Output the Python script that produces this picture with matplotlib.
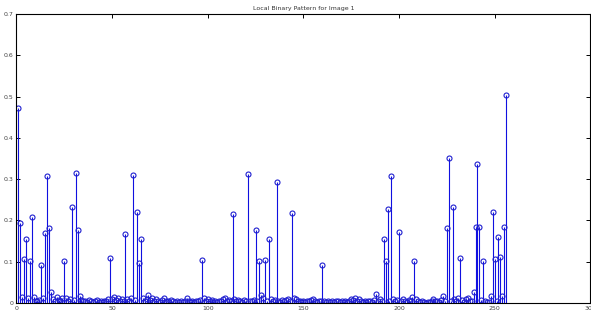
import numpy as np
import matplotlib.pyplot as plt

# LBP histogram, 256 bins (plotted at 1..256 like MATLAB stem)
lbp_hist = [
    0.473, 0.194, 0.015, 0.106, 0.156, 0.012, 0.101, 0.208, 0.015, 0.006, 0.004, 0.008, 0.092, 0.012, 0.169, 0.307,
    0.181, 0.027, 0.010, 0.006, 0.015, 0.008, 0.005, 0.012, 0.102, 0.012, 0.006, 0.010, 0.233, 0.008, 0.315, 0.178,
    0.018, 0.008, 0.004, 0.006, 0.003, 0.008, 0.005, 0.002, 0.004, 0.007, 0.003, 0.005, 0.002, 0.006, 0.004, 0.009,
    0.110, 0.010, 0.014, 0.008, 0.011, 0.006, 0.009, 0.004, 0.167, 0.010, 0.006, 0.012, 0.309, 0.008, 0.221, 0.096,
    0.154, 0.012, 0.006, 0.010, 0.020, 0.008, 0.012, 0.005, 0.010, 0.004, 0.003, 0.007, 0.012, 0.004, 0.006, 0.002,
    0.008, 0.004, 0.003, 0.005, 0.002, 0.004, 0.003, 0.006, 0.011, 0.004, 0.002, 0.005, 0.003, 0.006, 0.004, 0.008,
    0.105, 0.012, 0.006, 0.010, 0.004, 0.008, 0.003, 0.005, 0.002, 0.006, 0.004, 0.010, 0.012, 0.005, 0.008, 0.006,
    0.215, 0.010, 0.006, 0.008, 0.004, 0.003, 0.007, 0.005, 0.312, 0.006, 0.004, 0.008, 0.178, 0.005, 0.103, 0.020,
    0.012, 0.105, 0.006, 0.155, 0.010, 0.004, 0.008, 0.294, 0.006, 0.003, 0.007, 0.004, 0.008, 0.010, 0.006, 0.219,
    0.012, 0.009, 0.004, 0.006, 0.003, 0.005, 0.002, 0.006, 0.004, 0.008, 0.010, 0.005, 0.003, 0.006, 0.004, 0.092,
    0.006, 0.003, 0.005, 0.002, 0.004, 0.003, 0.006, 0.004, 0.002, 0.005, 0.003, 0.004, 0.002, 0.006, 0.010, 0.008,
    0.012, 0.006, 0.010, 0.004, 0.003, 0.005, 0.002, 0.004, 0.006, 0.003, 0.008, 0.023, 0.005, 0.010, 0.006, 0.155,
    0.102, 0.228, 0.004, 0.307, 0.010, 0.006, 0.008, 0.171, 0.004, 0.010, 0.006, 0.003, 0.008, 0.005, 0.014, 0.102,
    0.010, 0.006, 0.003, 0.004, 0.002, 0.001, 0.003, 0.002, 0.005, 0.010, 0.004, 0.006, 0.003, 0.007, 0.017, 0.005,
    0.181, 0.351, 0.006, 0.232, 0.010, 0.004, 0.012, 0.108, 0.008, 0.003, 0.010, 0.012, 0.006, 0.004, 0.027, 0.183,
    0.338, 0.183, 0.008, 0.102, 0.004, 0.002, 0.003, 0.017, 0.221, 0.107, 0.006, 0.161, 0.112, 0.017, 0.185, 0.503,
]
bins = np.arange(1, len(lbp_hist) + 1)

xticks = [0, 50, 100, 150, 200, 250, 300]
yticks = [0, 0.1, 0.2, 0.3, 0.4, 0.5, 0.6, 0.7]
ytick_labels = ['0', '0.1', '0.2', '0.3', '0.4', '0.5', '0.6', '0.7']

fig = plt.figure(figsize=(5.91, 3.2), dpi=100)
ax = fig.add_axes([0.0278, 0.053, 0.971, 0.903])

markers, stems, base = ax.stem(bins, lbp_hist, linefmt='-', markerfmt='o', basefmt=' ')
stems.set_color('#1010e0')
stems.set_linewidth(0.8)
markers.set_markerfacecolor('none')
markers.set_markeredgecolor('#2020d0')
markers.set_markersize(3.6)
markers.set_markeredgewidth(0.8)

ax.set_xlim(0, 300)
ax.set_ylim(0, 0.7)
ax.set_xticks(xticks)
ax.set_yticks(yticks)
ax.set_yticklabels(ytick_labels)
ax.tick_params(direction='in', length=3, width=0.7, labelsize=4.5, labelcolor='#444444',
               top=True, right=True, pad=2)
for s in ax.spines.values():
    s.set_linewidth(0.8)

ax.set_title('Local Binary Pattern for Image 1', fontsize=4.5, color='#333333', pad=3)

plt.savefig('out.png', dpi=100)
